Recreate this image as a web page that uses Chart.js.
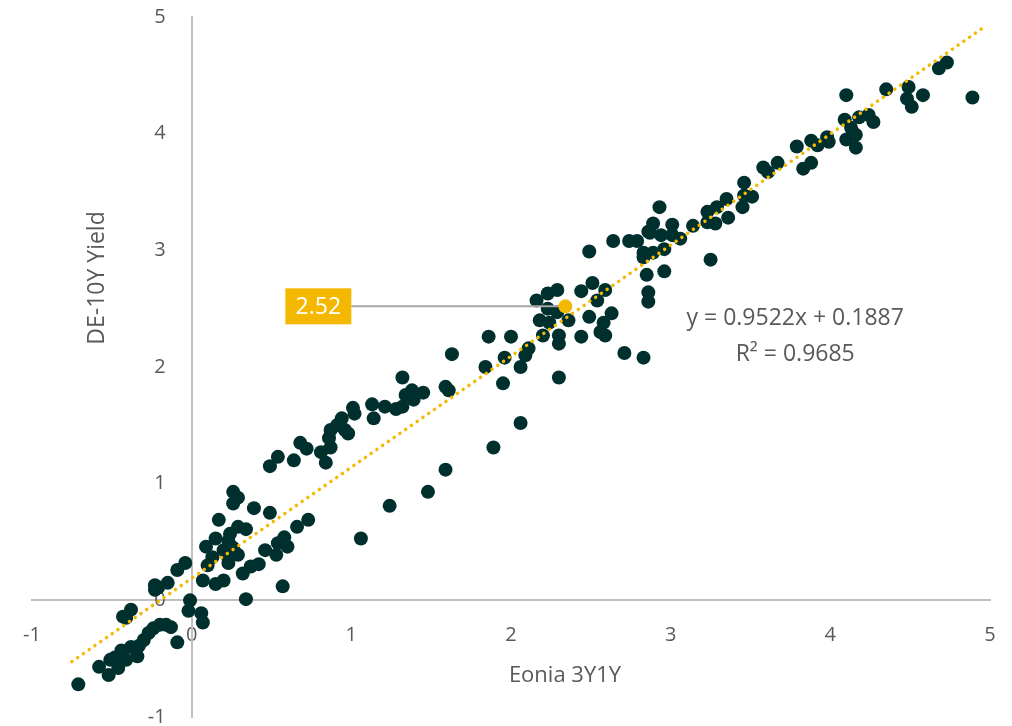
<!DOCTYPE html>
<html>
<head>
<meta charset="utf-8">
<script src="https://cdn.jsdelivr.net/npm/chart.js@4/dist/chart.umd.min.js"></script>
<style>
  html, body { margin: 0; padding: 0; background: #ffffff; }
  #wrap { width: 1012px; height: 726px; position: relative; }
</style>
</head>
<body>
<div id="wrap"><canvas id="c" width="1012" height="726"></canvas></div>
<script>
// ---- data ----
const xTicks = [-1, 0, 1, 2, 3, 4, 5];
const yTicks = [-1, 0, 1, 2, 3, 4, 5];

const eoniaX = [
  -0.71,-0.58,-0.52,-0.48,-0.44,-0.41,-0.38,-0.34,-0.33,-0.30,
  -0.27,-0.24,-0.20,-0.16,-0.13,-0.46,-0.51,-0.09,-0.43,-0.38,
  -0.41,-0.21,-0.15,-0.09,-0.04,-0.23,-0.01,-0.02,0.06,0.07,-0.23,
  0.07,0.15,0.20,0.32,0.34,0.57,0.10,0.23,0.37,0.42,
  0.46,0.53,0.54,0.58,0.60,0.66,0.73,0.13,0.09,0.15,
  0.17,0.24,0.29,0.34,0.23,0.29,0.23,0.20,0.26,0.26,
  0.29,0.26,0.39,0.49,
  0.49,0.54,0.64,0.68,0.72,0.81,0.84,0.87,0.86,0.87,
  0.91,0.94,0.98,0.96,1.01,1.02,1.13,1.14,1.21,1.28,
  1.32,1.32,1.34,1.38,1.39,1.45,1.59,1.61,1.63,1.59,
  1.89,1.48,1.24,1.06,2.06,
  1.86,2.00,2.11,2.09,1.96,2.06,1.84,1.95,2.30,2.71,
  2.83,2.29,2.23,2.16,2.23,2.29,2.18,2.24,2.36,2.20,
  2.30,2.30,2.44,2.51,2.59,2.54,2.49,2.63,2.58,2.56,
  2.59,2.44,2.49,2.64,2.74,2.79,2.87,2.89,2.83,2.85,
  2.86,2.86,2.93,2.86,3.01,2.94,3.01,3.06,2.89,2.96,
  2.83,2.96,
  3.14,3.23,3.29,3.35,3.36,3.28,3.23,3.25,3.46,3.46,
  3.51,3.45,3.58,3.61,3.67,3.79,3.83,3.88,3.88,3.92,
  3.98,3.99,4.10,4.09,4.10,4.16,4.16,4.13,4.18,4.24,
  4.27,4.35,4.48,4.49,4.51,4.58,4.68,4.73,4.89
];
const deYield = [
  -0.72,-0.57,-0.64,-0.49,-0.43,-0.51,-0.40,-0.48,-0.39,-0.34,
  -0.28,-0.24,-0.21,-0.21,-0.23,-0.58,-0.51,-0.36,-0.14,-0.08,
  -0.15,0.11,0.15,0.26,0.32,0.09,0.00,-0.09,-0.11,-0.19,0.13,
  0.17,0.14,0.17,0.23,0.01,0.12,0.30,0.32,0.29,0.31,
  0.43,0.39,0.49,0.54,0.46,0.63,0.69,0.37,0.46,0.53,
  0.69,0.57,0.63,0.61,0.51,0.39,0.36,0.43,0.45,0.93,
  0.88,0.83,0.79,0.75,
  1.15,1.23,1.20,1.35,1.30,1.27,1.18,1.31,1.39,1.46,
  1.50,1.56,1.43,1.46,1.65,1.60,1.68,1.56,1.66,1.64,
  1.66,1.91,1.76,1.80,1.72,1.78,1.83,1.80,2.11,1.12,
  1.31,0.93,0.81,0.53,1.52,
  2.26,2.26,2.16,2.10,2.08,2.00,2.00,1.86,1.91,2.12,
  2.08,2.66,2.63,2.57,2.50,2.47,2.40,2.38,2.40,2.27,
  2.27,2.20,2.65,2.72,2.66,2.57,2.43,2.46,2.38,2.30,
  2.27,2.26,2.99,3.08,3.08,3.08,3.15,3.23,2.98,2.79,
  2.64,2.56,3.37,3.16,3.22,3.13,3.13,3.10,2.98,3.01,
  2.94,2.82,
  3.21,3.33,3.37,3.44,3.28,3.23,3.24,2.92,3.58,3.47,
  3.46,3.37,3.71,3.67,3.75,3.89,3.70,3.75,3.94,3.90,
  3.97,3.93,4.33,4.12,3.95,3.99,3.88,4.05,4.14,4.16,
  4.10,4.38,4.30,4.40,4.23,4.33,4.56,4.61,4.31
];

// latest observation (highlighted)
const latestX = [2.34];
const latestY = [2.52];
const latestLabel = '2.52';
const calloutStartX = 1.0;   // left end of the callout line (data x)

// linear trend line (end points)
const trendX = [-0.75, 4.97];
const trendY = [-0.525, 4.92];
const trendText = ['y = 0.9522x + 0.1887', 'R\u00b2 = 0.9685'];
const trendTextAt = { x: 3.78, y: 2.42 };   // data coordinates of first line centre

const xTitle = 'Eonia 3Y1Y';
const yTitle = 'DE-10Y Yield';

// ---- build ----
const FONT = "'Open Sans', 'DejaVu Sans', sans-serif";
const GREY = '#595959';
const DARK = '#00302e';
const GOLD = '#f5b800';

const pts = eoniaX.map((x, i) => ({ x: x, y: deYield[i] }));
const latestPts = latestX.map((x, i) => ({ x: x, y: latestY[i] }));
const trendPts = trendX.map((x, i) => ({ x: x, y: trendY[i] }));
const calloutPts = [{ x: calloutStartX, y: latestY[0] }, { x: latestX[0], y: latestY[0] }];

const overlay = {
  id: 'overlay',
  afterDraw(chart) {
    const ctx = chart.ctx;
    const xs = chart.scales.x, ys = chart.scales.y;
    ctx.save();
    // callout box
    const bx1 = xs.getPixelForValue(calloutStartX);
    const by = ys.getPixelForValue(latestY[0]);
    const bw = 66, bh = 36;
    ctx.fillStyle = GOLD;
    ctx.fillRect(bx1 - bw, by - bh / 2, bw, bh);
    ctx.fillStyle = '#ffffff';
    ctx.font = '23px ' + FONT;
    ctx.textAlign = 'center';
    ctx.textBaseline = 'middle';
    ctx.fillText(latestLabel, bx1 - bw / 2, by + 1);
    // trend equation
    ctx.fillStyle = GREY;
    ctx.font = '23px ' + FONT;
    const tx = xs.getPixelForValue(trendTextAt.x);
    const ty = ys.getPixelForValue(trendTextAt.y);
    ctx.fillText(trendText[0], tx, ty);
    ctx.fillText(trendText[1], tx, ty + 36);
    // axis titles
    ctx.font = '22px ' + FONT;
    ctx.fillText(xTitle, 565, 676);
    ctx.translate(97, 278);
    ctx.rotate(-Math.PI / 2);
    ctx.font = '23px ' + FONT;
    ctx.fillText(yTitle, 0, 0);
    ctx.restore();
  }
};

const zeroFit = (s, horiz) => {
  if (horiz) s.height = 0; else s.width = 0;
  s.paddingTop = 0; s.paddingBottom = 0; s.paddingLeft = 0; s.paddingRight = 0;
};

new Chart(document.getElementById('c'), {
  type: 'scatter',
  data: {
    datasets: [
      {
        label: 'trend',
        type: 'line',
        data: trendPts,
        borderColor: GOLD,
        borderWidth: 3.5,
        borderDash: [0.01, 7],
        borderCapStyle: 'round',
        pointRadius: 0,
        fill: false,
        order: 0
      },
      {
        label: 'latest',
        data: latestPts,
        backgroundColor: GOLD,
        borderWidth: 0,
        pointRadius: 7,
        order: 1
      },
      {
        label: 'callout',
        type: 'line',
        data: calloutPts,
        borderColor: '#a6a6a6',
        borderWidth: 2,
        pointRadius: 0,
        fill: false,
        order: 2
      },
      {
        label: 'DE-10Y vs Eonia 3Y1Y',
        data: pts,
        backgroundColor: DARK,
        borderWidth: 0,
        pointRadius: 7,
        order: 3
      }
    ]
  },
  options: {
    responsive: false,
    animation: false,
    events: [],
    layout: { padding: { left: 32, right: 22, top: 17, bottom: 9 } },
    plugins: { legend: { display: false }, tooltip: { enabled: false } },
    scales: {
      x: {
        type: 'linear',
        min: -1, max: 5,
        position: { y: 0 },
        afterFit: s => zeroFit(s, true),
        afterBuildTicks: s => { s.ticks = xTicks.map(v => ({ value: v })); },
        grid: { display: false, drawTicks: false },
        border: { display: true, color: '#bfbfbf', width: 2 },
        ticks: {
          color: GREY, font: { family: FONT, size: 20 },
          padding: 23, maxRotation: 0, autoSkip: false
        }
      },
      y: {
        type: 'linear',
        min: -1, max: 5,
        position: { x: 0 },
        afterFit: s => zeroFit(s, false),
        afterBuildTicks: s => { s.ticks = yTicks.map(v => ({ value: v })); },
        grid: { display: false, drawTicks: false },
        border: { display: true, color: '#bfbfbf', width: 2 },
        ticks: {
          color: GREY, font: { family: FONT, size: 20 },
          autoSkip: false,
          callback: v => String(v) + '     '
        }
      }
    }
  },
  plugins: [overlay]
});
</script>
</body>
</html>
